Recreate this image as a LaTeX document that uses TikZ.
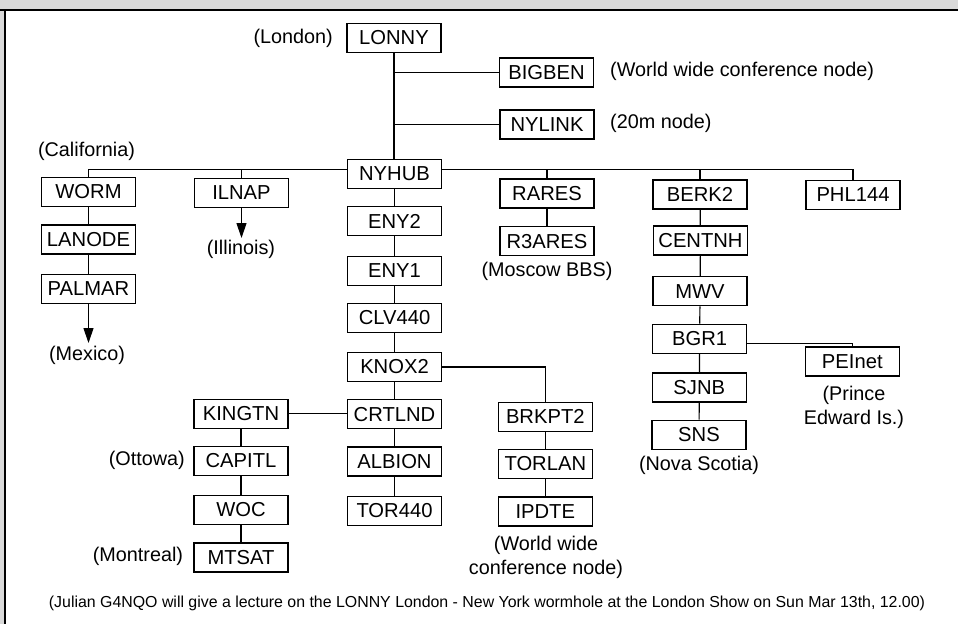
\documentclass[tikz,border=0pt]{standalone}
\usepackage{fontspec}
\setmainfont{Liberation Sans}
\usetikzlibrary{arrows.meta}
\begin{document}
\begin{tikzpicture}[x=1pt,y=-1pt,
  bx/.style={draw, line width=1.4pt, minimum width=94pt, minimum height=29pt, inner sep=0pt,
    font=\fontsize{20.2}{24}\selectfont},
  lbl/.style={inner sep=0pt, font=\fontsize{19.8}{24}\selectfont, align=center},
  foot/.style={inner sep=0pt, font=\fontsize{15.9}{18}\selectfont},
  ln/.style={line width=1.2pt},
  arr/.style={line width=1.2pt, -{Triangle[width=10pt,length=15pt]}}]
\useasboundingbox (0,0) rectangle (958,624);
\fill[white] (0,0) rectangle (958,624);
\fill[gray!30] (0,0) rectangle (958,9);
\fill[gray!30] (0,0) rectangle (4,624);
\draw[line width=2pt] (0,9.5) -- (958,9.5);
\draw[line width=2.5pt] (5,9.5) -- (5,624);

% nodes
\node[bx] (LONNY) at (394,37.8) {LONNY};
\node[bx] (BIGBEN) at (546.5,72.5) {BIGBEN};
\node[bx] (NYLINK) at (547,124.3) {NYLINK};
\node[bx] (NYHUB) at (394.5,173.8) {NYHUB};
\node[bx] (WORM) at (88.5,192) {WORM};
\node[bx] (LANODE) at (88.5,239.5) {LANODE};
\node[bx] (PALMAR) at (88.5,288.8) {PALMAR};
\node[bx] (ILNAP) at (241.5,192.8) {ILNAP};
\node[bx] (ENY2) at (394.5,221.2) {ENY2};
\node[bx] (ENY1) at (394.5,270.7) {ENY1};
\node[bx] (CLV440) at (394.5,318) {CLV440};
\node[bx] (KNOX2) at (394.5,367) {KNOX2};
\node[bx] (CRTLND) at (394.5,414.2) {CRTLND};
\node[bx] (ALBION) at (394.5,461.5) {ALBION};
\node[bx] (TOR440) at (394.5,511) {TOR440};
\node[bx] (KINGTN) at (241,413.8) {KINGTN};
\node[bx] (CAPITL) at (241,461) {CAPITL};
\node[bx] (WOC) at (241,509.8) {WOC};
\node[bx] (MTSAT) at (241,557.5) {MTSAT};
\node[bx] (RARES) at (547,193.3) {RARES};
\node[bx] (R3ARES) at (547,241.2) {R3ARES};
\node[bx] (BERK2) at (700,194.5) {BERK2};
\node[bx] (CENTNH) at (700.5,240.3) {CENTNH};
\node[bx] (MWV) at (700,291.2) {MWV};
\node[bx] (BGR1) at (699.7,338.7) {BGR1};
\node[bx] (SJNB) at (699.3,387.5) {SJNB};
\node[bx] (SNS) at (699,434.9) {SNS};
\node[bx] (PHL144) at (853,195) {PHL144};
\node[bx] (PEInet) at (852.3,361.3) {PEInet};
\node[bx] (BRKPT2) at (545.3,416.7) {BRKPT2};
\node[bx] (TORLAN) at (545.3,463.7) {TORLAN};
\node[bx] (IPDTE) at (545.3,511.3) {IPDTE};

% labels
\node[lbl, anchor=east] (lLondon) at (333,38) {(London)};
\node[lbl, anchor=west] (lWW1) at (610,71) {(World wide conference node)};
\node[lbl, anchor=west] (l20m) at (610,123) {(20m node)};
\node[lbl] (lCal) at (86.5,151.7) {(California)};
\node[lbl] (lIll) at (241,249) {(Illinois)};
\node[lbl] (lMex) at (87,355.7) {(Mexico)};
\node[lbl] (lMos) at (547,271.7) {(Moscow BBS)};
\node[lbl, anchor=east] (lOtt) at (185,460.7) {(Ottowa)};
\node[lbl, anchor=east] (lMon) at (183.3,556.7) {(Montreal)};
\node[lbl] (lPEI) at (854,407) {(Prince\\Edward Is.)};
\node[lbl] (lNS) at (699,465.7) {(Nova Scotia)};
\node[lbl] (lWW2) at (546,557.5) {(World wide\\conference node)};
\node[foot] (lFoot) at (487,603.3) {(Julian G4NQO will give a lecture on the LONNY London - New York wormhole at the London Show on Sun Mar 13th, 12.00)};

% coordinates
\coordinate (bus) at (0,169.5);
\coordinate (mexEnd) at (88.5,343);
\coordinate (illEnd) at (241.5,238);

% connectors
\draw[ln] (LONNY.south) -- (NYHUB.north -| LONNY.south);
\draw[ln] (LONNY.south |- BIGBEN.west) -- (BIGBEN.west);
\draw[ln] (LONNY.south |- NYLINK.west) -- (NYLINK.west);
\draw[ln] (NYHUB.west |- bus) -| (WORM.north);
\draw[ln] (ILNAP.north |- bus) -- (ILNAP.north);
\draw[ln] (NYHUB.east |- bus) -| (PHL144.north);
\draw[ln] (RARES.north |- bus) -- (RARES.north);
\draw[ln] (BERK2.north |- bus) -- (BERK2.north);
\draw[ln] (WORM) -- (LANODE) -- (PALMAR);
\draw[arr] (PALMAR.south) -- (mexEnd);
\draw[arr] (ILNAP.south) -- (illEnd);
\draw[ln] (NYHUB) -- (ENY2) -- (ENY1) -- (CLV440) -- (KNOX2) -- (CRTLND) -- (ALBION) -- (TOR440);
\draw[ln] (KNOX2.east) -| (BRKPT2.north);
\draw[ln] (BRKPT2) -- (TORLAN) -- (IPDTE);
\draw[ln] (KINGTN.east) -- (CRTLND.west |- KINGTN.east);
\draw[ln] (KINGTN) -- (CAPITL) -- (WOC) -- (MTSAT);
\draw[ln] (RARES) -- (R3ARES);
\draw[ln] (BERK2) -- (CENTNH) -- (MWV) -- (BGR1) -- (SJNB) -- (SNS);
\draw[ln] ([yshift=-4.5pt]BGR1.east) -| (PEInet.north);
\end{tikzpicture}
\end{document}
